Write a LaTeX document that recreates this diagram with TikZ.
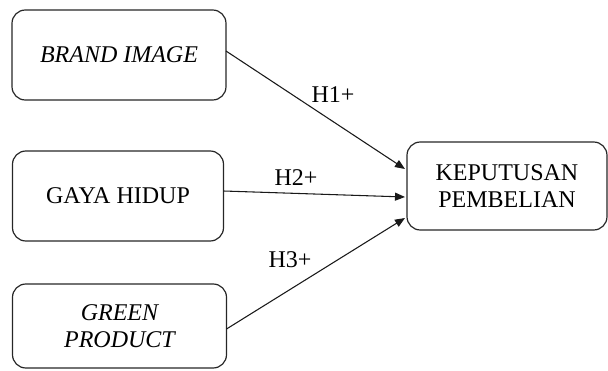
\documentclass[tikz,border=0pt]{standalone}
\usepackage{fontspec}
\setmainfont{Liberation Serif}
\usetikzlibrary{arrows.meta,calc}
\tikzset{
  x=0.75pt, y=-0.75pt,
  varbox/.style = {draw=black!85, line width=0.9pt, rounded corners=10pt, align=center,
    inner sep=0pt, outer sep=0pt, font=\fontsize{18}{20.6}\selectfont},
  hyplabel/.style = {inner sep=0pt, font=\fontsize{18}{20.6}\selectfont},
  hyparrow/.style = {draw=black!90, line width=0.8pt, -{Triangle[length=7.5pt,width=6pt]}}
}
\begin{document}
\begin{tikzpicture}
\useasboundingbox (0,0) rectangle (608,371);
% variabel bebas
\node [varbox, minimum width=160.5pt, minimum height=67.5pt] (brand) at (119,55) {\itshape BRAND IMAGE};
\node [varbox, minimum width=158.25pt, minimum height=67.5pt] (gaya) at (118,196) {GAYA HIDUP};
\node [varbox, minimum width=160.5pt, minimum height=63pt] (green) at (119.5,326) {\itshape GREEN\\\itshape PRODUCT};
% variabel terikat
\node [varbox, minimum width=150pt, minimum height=66pt] (kp) at (507,186) {KEPUTUSAN\\PEMBELIAN};
% hipotesis
\draw [hyparrow] ([yshift=3pt]brand.east) -- ([xshift=-1.5pt,yshift=12.75pt]kp.west);
\draw [hyparrow] ([yshift=3.75pt]gaya.east) -- ([xshift=-1.5pt,yshift=-8.25pt]kp.west);
\draw [hyparrow] ([yshift=-2.25pt]green.east) -- ([xshift=-1.5pt,yshift=-24pt]kp.west);
\node [hyplabel] (h1) at (333,95) {H1+};
\node [hyplabel] (h2) at (296,178) {H2+};
\node [hyplabel] (h3) at (290,260) {H3+};
\end{tikzpicture}
\end{document}
